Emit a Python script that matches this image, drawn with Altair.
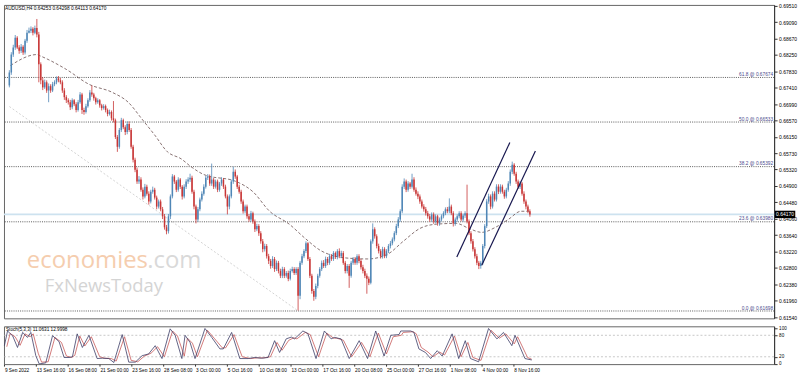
import altair as alt
import pandas as pd

# ---------------- data ----------------
FIRST_OPEN = 0.6747
CLOSE = [
 0.6780,0.6826,0.6844,0.6869,0.6844,0.6836,0.6846,0.6831,0.6861,0.6882,
 0.6887,0.6892,0.6882,0.6894,0.6877,0.6801,0.6760,0.6742,0.6755,0.6734,
 0.6745,0.6734,0.6750,0.6755,0.6765,0.6760,0.6755,0.6734,0.6717,0.6709,
 0.6704,0.6691,0.6709,0.6699,0.6684,0.6704,0.6724,0.6684,0.6679,0.6694,
 0.6709,0.6729,0.6724,0.6714,0.6704,0.6709,0.6696,0.6689,0.6694,0.6684,
 0.6674,0.6679,0.6663,0.6658,0.6615,0.6590,0.6633,0.6658,0.6640,0.6628,
 0.6648,0.6633,0.6590,0.6557,0.6531,0.6501,0.6506,0.6480,0.6463,0.6488,
 0.6470,0.6450,0.6475,0.6480,0.6460,0.6437,0.6450,0.6430,0.6412,0.6384,
 0.6374,0.6412,0.6463,0.6514,0.6501,0.6480,0.6506,0.6488,0.6463,0.6488,
 0.6501,0.6506,0.6511,0.6475,0.6437,0.6404,0.6430,0.6455,0.6470,0.6488,
 0.6511,0.6514,0.6496,0.6506,0.6488,0.6501,0.6480,0.6496,0.6506,0.6488,
 0.6463,0.6437,0.6463,0.6501,0.6526,0.6514,0.6488,0.6475,0.6450,0.6425,
 0.6437,0.6412,0.6404,0.6420,0.6399,0.6379,0.6387,0.6369,0.6348,0.6328,
 0.6336,0.6310,0.6298,0.6285,0.6303,0.6277,0.6293,0.6272,0.6260,0.6277,
 0.6260,0.6267,0.6252,0.6272,0.6277,0.6267,0.6277,0.6209,0.6293,0.6310,
 0.6323,0.6343,0.6303,0.6260,0.6221,0.6206,0.6234,0.6260,0.6277,0.6293,
 0.6285,0.6303,0.6293,0.6310,0.6303,0.6318,0.6308,0.6323,0.6310,0.6318,
 0.6293,0.6272,0.6285,0.6260,0.6293,0.6303,0.6293,0.6310,0.6298,0.6282,
 0.6272,0.6260,0.6252,0.6242,0.6348,0.6379,0.6361,0.6336,0.6323,0.6310,
 0.6328,0.6310,0.6323,0.6336,0.6343,0.6353,0.6369,0.6387,0.6404,0.6425,
 0.6488,0.6501,0.6480,0.6496,0.6488,0.6506,0.6480,0.6470,0.6463,0.6450,
 0.6437,0.6430,0.6420,0.6412,0.6404,0.6417,0.6399,0.6412,0.6394,0.6404,
 0.6412,0.6420,0.6430,0.6425,0.6437,0.6420,0.6394,0.6404,0.6412,0.6420,
 0.6404,0.6414,0.6420,0.6399,0.6369,0.6348,0.6328,0.6310,0.6293,0.6285,
 0.6293,0.6336,0.6387,0.6450,0.6463,0.6437,0.6470,0.6455,0.6488,0.6475,
 0.6488,0.6475,0.6463,0.6480,0.6496,0.6526,0.6544,0.6521,0.6501,0.6488,
 0.6496,0.6470,0.6450,0.6437,0.6425,0.6417]
HIGH = [
 0.6786,0.6832,0.6851,0.6876,0.6873,0.6850,0.6853,0.6850,0.6866,0.6889,
 0.6895,0.6898,0.6896,0.6900,0.6917,0.6884,0.6806,0.6768,0.6762,0.6760,
 0.6752,0.6750,0.6756,0.6760,0.6770,0.6771,0.6766,0.6760,0.6740,0.6722,
 0.6714,0.6710,0.6714,0.6712,0.6704,0.6710,0.6730,0.6728,0.6690,0.6700,
 0.6714,0.6735,0.6747,0.6728,0.6718,0.6714,0.6712,0.6700,0.6699,0.6698,
 0.6688,0.6685,0.6683,0.6707,0.6662,0.6620,0.6638,0.6664,0.6662,0.6645,
 0.6655,0.6655,0.6638,0.6595,0.6562,0.6537,0.6515,0.6512,0.6486,0.6495,
 0.6493,0.6476,0.6480,0.6488,0.6485,0.6465,0.6455,0.6455,0.6436,0.6418,
 0.6390,0.6418,0.6468,0.6520,0.6518,0.6505,0.6512,0.6510,0.6492,0.6494,
 0.6507,0.6512,0.6521,0.6516,0.6480,0.6442,0.6436,0.6460,0.6476,0.6494,
 0.6516,0.6520,0.6519,0.6547,0.6510,0.6506,0.6506,0.6500,0.6512,0.6510,
 0.6493,0.6468,0.6468,0.6506,0.6539,0.6532,0.6518,0.6493,0.6480,0.6455,
 0.6442,0.6442,0.6418,0.6426,0.6424,0.6404,0.6393,0.6392,0.6374,0.6354,
 0.6342,0.6341,0.6316,0.6303,0.6310,0.6308,0.6299,0.6298,0.6278,0.6283,
 0.6282,0.6272,0.6273,0.6278,0.6283,0.6282,0.6282,0.6282,0.6298,0.6316,
 0.6328,0.6348,0.6346,0.6308,0.6265,0.6226,0.6240,0.6265,0.6282,0.6299,
 0.6300,0.6309,0.6308,0.6316,0.6315,0.6323,0.6322,0.6328,0.6330,0.6324,
 0.6323,0.6298,0.6290,0.6290,0.6298,0.6308,0.6308,0.6315,0.6315,0.6303,
 0.6288,0.6278,0.6266,0.6258,0.6353,0.6394,0.6384,0.6366,0.6342,0.6328,
 0.6334,0.6333,0.6328,0.6341,0.6349,0.6358,0.6374,0.6393,0.6410,0.6430,
 0.6494,0.6509,0.6506,0.6502,0.6500,0.6521,0.6512,0.6486,0.6476,0.6468,
 0.6455,0.6443,0.6436,0.6426,0.6418,0.6422,0.6422,0.6417,0.6416,0.6409,
 0.6417,0.6425,0.6435,0.6436,0.6458,0.6442,0.6425,0.6409,0.6417,0.6425,
 0.6425,0.6419,0.6425,0.6493,0.6404,0.6374,0.6354,0.6333,0.6316,0.6298,
 0.6298,0.6341,0.6392,0.6456,0.6470,0.6468,0.6476,0.6476,0.6494,0.6494,
 0.6494,0.6493,0.6480,0.6485,0.6502,0.6532,0.6552,0.6548,0.6526,0.6506,
 0.6502,0.6500,0.6476,0.6455,0.6442,0.6430]
LOW = [
 0.6742,0.6774,0.6820,0.6838,0.6840,0.6828,0.6830,0.6825,0.6826,0.6856,
 0.6880,0.6881,0.6875,0.6878,0.6870,0.6755,0.6750,0.6735,0.6738,0.6728,
 0.6704,0.6728,0.6730,0.6745,0.6750,0.6755,0.6750,0.6728,0.6710,0.6702,
 0.6698,0.6684,0.6686,0.6694,0.6678,0.6680,0.6700,0.6674,0.6672,0.6675,
 0.6690,0.6705,0.6718,0.6708,0.6698,0.6700,0.6690,0.6683,0.6685,0.6678,
 0.6668,0.6670,0.6657,0.6652,0.6610,0.6577,0.6585,0.6628,0.6635,0.6620,
 0.6622,0.6628,0.6585,0.6550,0.6525,0.6495,0.6495,0.6475,0.6455,0.6458,
 0.6465,0.6442,0.6445,0.6470,0.6455,0.6430,0.6432,0.6425,0.6405,0.6378,
 0.6366,0.6368,0.6405,0.6458,0.6495,0.6474,0.6475,0.6482,0.6455,0.6458,
 0.6482,0.6495,0.6500,0.6470,0.6430,0.6394,0.6398,0.6425,0.6450,0.6465,
 0.6483,0.6505,0.6490,0.6490,0.6482,0.6483,0.6474,0.6475,0.6490,0.6482,
 0.6458,0.6417,0.6430,0.6458,0.6495,0.6508,0.6482,0.6470,0.6444,0.6419,
 0.6420,0.6406,0.6398,0.6398,0.6393,0.6372,0.6374,0.6362,0.6342,0.6320,
 0.6322,0.6304,0.6290,0.6278,0.6280,0.6270,0.6272,0.6266,0.6254,0.6254,
 0.6254,0.6255,0.6246,0.6248,0.6268,0.6262,0.6262,0.6171,0.6200,0.6288,
 0.6305,0.6318,0.6298,0.6254,0.6214,0.6196,0.6200,0.6228,0.6255,0.6272,
 0.6280,0.6280,0.6287,0.6288,0.6298,0.6298,0.6303,0.6302,0.6305,0.6305,
 0.6288,0.6266,0.6266,0.6229,0.6255,0.6288,0.6288,0.6288,0.6292,0.6276,
 0.6266,0.6254,0.6214,0.6236,0.6238,0.6342,0.6355,0.6330,0.6317,0.6304,
 0.6304,0.6305,0.6305,0.6318,0.6330,0.6338,0.6348,0.6364,0.6382,0.6398,
 0.6420,0.6482,0.6474,0.6475,0.6482,0.6483,0.6475,0.6465,0.6456,0.6444,
 0.6432,0.6424,0.6414,0.6406,0.6398,0.6398,0.6393,0.6394,0.6388,0.6388,
 0.6399,0.6407,0.6415,0.6420,0.6420,0.6415,0.6386,0.6388,0.6398,0.6407,
 0.6399,0.6398,0.6408,0.6394,0.6364,0.6342,0.6322,0.6304,0.6287,0.6277,
 0.6278,0.6288,0.6330,0.6382,0.6444,0.6430,0.6432,0.6450,0.6450,0.6469,
 0.6470,0.6470,0.6457,0.6458,0.6475,0.6490,0.6520,0.6516,0.6495,0.6482,
 0.6482,0.6465,0.6444,0.6430,0.6420,0.6411]

MA_BAR = [0.6,14,15.5,29,40.5,52.5,60.5,67.5,74,80.5,87.5,92.5,99,115.5,124,132.5,
          142.5,150.5,159,172.5,182.5,192.5,200.5,209,217.5,227.5,234,240.5,247.5,254,260.5,265]
MA_VAL = [0.6798,0.6826,0.6823,0.6788,0.6750,0.6729,0.6704,0.6661,0.6620,0.6577,0.6559,0.6539,
          0.6519,0.6501,0.6475,0.6425,0.6392,0.6356,0.6323,0.6305,0.6303,0.6315,0.6348,0.6381,
          0.6392,0.6394,0.6381,0.6371,0.6384,0.6404,0.6425,0.6425]

FIB_NAMES = ["61.8 @ 0.67674", "50.0 @ 0.66533", "38.2 @ 0.65392", "23.6 @ 0.63980", "0.0 @ 0.61698"]
FIB_PRICES = [0.67674, 0.66533, 0.65392, 0.63980, 0.61698]
CURRENT = 0.64170

DIAG_BAR = [0, 147]
DIAG_PRICE = [0.6693, 0.6170]

CH_ID = ["a", "a", "b", "b"]
CH_BAR = [227.8, 254.8, 240.5, 267.8]
CH_PRICE = [0.6308, 0.6601, 0.6287, 0.6579]

PRICE_TICKS = [0.69510,0.69090,0.68670,0.68250,0.67830,0.67410,0.66990,0.66570,0.66150,0.65730,
               0.65320,0.64900,0.64480,0.64060,0.63640,0.63220,0.62800,0.62380,0.61960,0.61540]

DATE_BARS = list(range(0, 257, 16))
DATE_LABELS = ["9 Sep 2022","13 Sep 16:00","16 Sep 08:00","21 Sep 00:00","23 Sep 16:00",
               "28 Sep 08:00","3 Oct 00:00","5 Oct 16:00","10 Oct 08:00","13 Oct 00:00",
               "17 Oct 16:00","20 Oct 08:00","25 Oct 00:00","27 Oct 16:00","1 Nov 08:00",
               "4 Nov 00:00","8 Nov 16:00"]

K_BAR = [0,1.6,4.2,6.6,9.2,11.6,13.3,15.8,17.5,20.8,24.2,27.5,30,32.5,34.2,36.6,39.2,42.5,46.6,49.2,
         52.5,55,59.2,62.5,65.8,69.2,72.5,75.8,79.2,83.3,85.8,89.2,90.8,93.3,95.8,100.8,104.2,108.3,
         110,114.2,118.3,122.5,125.8,129.2,132.5,135.8,138.3,141.6,144.2,145.8,150,152.5,156.6,160.8,
         164.2,165.8,169.2,173.3,178.3,182.5,186.6,190.8,194.2,198.3,199.2,204.2,205.8,208.3,211.6,
         214.2,217.5,220,225,228.3,231.6,234.2,238.3,243.3,247.5,250.8,255,256.6,261.6,265]
K_VAL = [51,92,78,46,88,74,88,23,0,3,79,62,18,18,20,84,46,80,15,16,15,4,82,5,5,23,28,51,15,98,80,15,
         80,60,15,99,74,42,42,88,15,15,18,16,18,65,32,70,75,70,92,85,15,92,70,74,70,15,65,15,92,22,
         80,82,92,92,88,42,32,15,37,22,84,15,65,15,6,99,70,88,51,80,15,11.06]
D_BAR = [1.2,2.9,5.4,7.9,10.4,12.9,14.5,17,18.7,22,25.4,28.7,31.2,33.7,35.4,37.9,40.4,43.7,47.9,50.4,
         53.7,56.2,60.4,63.7,67,70.4,73.7,77,80.4,84.5,87,90.4,92,94.5,97,102,105.4,109.5,111.2,115.4,
         119.5,123.7,127,130.4,133.7,137,139.5,142.9,145.4,147,151.2,153.7,157.9,162,165.4,167,170.4,
         174.5,179.5,183.7,187.9,192,195.4,199.5,200.4,205.4,207,209.5,212.9,215.4,218.7,221.2,226.2,
         229.5,232.9,235.4,239.5,244.5,248.7,252,256.2,257.9,262.9,265]
D_VAL = [48,85,76,52,84,76,84,30,5,6,74,60,22,18,24,78,50,76,20,16,15,8,76,10,6,22,30,48,20,92,78,22,
         72,58,20,94,72,45,45,82,20,15,17,17,20,60,38,66,73,70,88,82,20,86,72,72,66,20,60,20,86,28,
         76,80,88,90,84,46,33,20,33,25,78,20,60,18,10,94,72,84,56,76,18,13.0]

HEADER = "AUDUSD,H4  0.64253 0.64298 0.64113 0.64170"
STOCH_TITLE = "Stoch(5,3,3) 11.0631 12.9998"

# ---------------- styling ----------------
BULL = "#4f86b6"
BEAR = "#c83636"
FONT = "Liberation Sans"
W = 774
H_MAIN = 315
H_STOCH = 38

n = min(len(CLOSE), len(HIGH), len(LOW))
opens = [FIRST_OPEN] + CLOSE[:n - 1]
candles = pd.DataFrame({"bar": list(range(n)), "open": opens, "close": CLOSE[:n],
                        "high": HIGH[:n], "low": LOW[:n]})
candles["dir"] = ["up" if c >= o else "down" for o, c in zip(candles["open"], candles["close"])]

xs = alt.Scale(domain=[-0.2, 386.8], nice=False, zero=False)
ys = alt.Scale(domain=[0.6151, 0.6953], nice=False, zero=False)
col = alt.Color("dir:N", scale=alt.Scale(domain=["up", "down"], range=[BULL, BEAR]), legend=None)

Y_AXIS = alt.Axis(orient="right", values=PRICE_TICKS, format=".5f", labelFontSize=5,
                  labelFont=FONT, labelColor="#000", tickSize=3, tickColor="#333",
                  domainColor="#333", grid=False, labelPadding=1.5, title=None)


def py(field):
    return alt.Y(field, scale=ys, axis=Y_AXIS, title=None)


def px(field):
    return alt.X(field, scale=xs, axis=None)


ma = pd.DataFrame({"bar": MA_BAR, "p": MA_VAL})
fib = pd.DataFrame({"name": FIB_NAMES, "p": FIB_PRICES})
diag = pd.DataFrame({"bar": DIAG_BAR, "p": DIAG_PRICE})
chan = pd.DataFrame({"id": CH_ID, "bar": CH_BAR, "p": CH_PRICE})
cur = pd.DataFrame({"p": [CURRENT], "t": [f"{CURRENT:.5f}"]})

diag_l = alt.Chart(diag).mark_line(color="#c8c8c8", strokeDash=[2, 2], strokeWidth=0.8).encode(
    x=px("bar:Q"), y=py("p:Q"))
cur_l = alt.Chart(cur).mark_rule(color="#cde2ef", strokeWidth=1.6).encode(y=py("p:Q"))
fib_l = alt.Chart(fib).mark_rule(color="#333333", strokeDash=[1, 1.2], strokeWidth=0.8).encode(
    y=py("p:Q"))
fib_t = alt.Chart(fib).mark_text(align="right", baseline="bottom", dy=-0.5, fontSize=4.8,
                                 color="#4a4a8c", font=FONT).encode(
    x=alt.value(773), y=py("p:Q"), text="name:N")

wm1 = alt.Chart(pd.DataFrame({"t": ["economies"]})).mark_text(
    align="left", baseline="alphabetic", fontSize=24, font="Open Sans", color="#f5cdae").encode(
    x=alt.value(23), y=alt.value(264), text="t:N")
wm2 = alt.Chart(pd.DataFrame({"t": [".com"]})).mark_text(
    align="left", baseline="alphabetic", fontSize=24, font="Open Sans", color="#d9d9d9").encode(
    x=alt.value(144), y=alt.value(264), text="t:N")
wm3 = alt.Chart(pd.DataFrame({"t": ["FxNewsToday"]})).mark_text(
    align="left", baseline="alphabetic", fontSize=18.5, font="Open Sans", color="#d4d4d4").encode(
    x=alt.value(41), y=alt.value(289), text="t:N")

ma_l = alt.Chart(ma).mark_line(color="#6a5050", strokeDash=[3, 2], strokeWidth=0.8,
                               interpolate="monotone").encode(x=px("bar:Q"), y=py("p:Q"))

wick = alt.Chart(candles).mark_rule(strokeWidth=0.8).encode(
    x=px("bar:Q"), y=py("low:Q"), y2="high:Q", color=col)
body = alt.Chart(candles).mark_bar(size=1.5).encode(
    x=px("bar:Q"), y=py("open:Q"), y2="close:Q", color=col)

chan_l = alt.Chart(chan).mark_line(color="#16164e", strokeWidth=1.2).encode(
    x=px("bar:Q"), y=py("p:Q"), detail="id:N")

head = alt.Chart(pd.DataFrame({"t": [HEADER]})).mark_text(
    align="left", baseline="middle", fontSize=4.8, font=FONT, color="#000").encode(
    x=alt.value(1), y=alt.value(4), text="t:N")

box = alt.Chart(cur).mark_point(shape="M-1,-0.36L1,-0.36L1,0.36L-1,0.36Z", filled=True,
                                size=420, color="#000", opacity=1, strokeWidth=0).encode(
    x=alt.value(785), y=py("p:Q"))
box_t = alt.Chart(cur).mark_text(align="center", baseline="middle", fontSize=5, font=FONT,
                                 color="#fff").encode(
    x=alt.value(785), y=py("p:Q"), text="t:N")

main = alt.layer(diag_l, cur_l, fib_l, fib_t, wm1, wm2, wm3, ma_l, wick, body, chan_l,
                 head, box, box_t).properties(width=W, height=H_MAIN)

# ---------------- stochastic panel ----------------
ss = alt.Scale(domain=[-0.5, 105.1], nice=False, zero=False)
kn = min(len(K_BAR), len(K_VAL))
dn = min(len(D_BAR), len(D_VAL))
kdf = pd.DataFrame({"bar": K_BAR[:kn], "v": K_VAL[:kn]})
ddf = pd.DataFrame({"bar": D_BAR[:dn], "v": D_VAL[:dn]})
lev = pd.DataFrame({"v": [20, 80]})

label_expr = "[" + ",".join(f"'{s}'" for s in DATE_LABELS) + "][round(datum.value/16)]"

X_AXIS = alt.Axis(values=DATE_BARS, labelExpr=label_expr, labelFontSize=4.8,
                  labelFont=FONT, labelColor="#000", labelAlign="left", labelFlush=False,
                  labelOverlap=False, tickSize=2, tickColor="#333", domain=False,
                  grid=False, labelPadding=1.5, title=None)
S_AXIS = alt.Axis(orient="right", values=[0, 20, 80, 100], labelFontSize=4.6,
                  labelFont=FONT, labelColor="#000", tickSize=3, tickColor="#333",
                  domainColor="#333", grid=False, labelPadding=1.5, title=None)


def sx(field):
    return alt.X(field, scale=xs, axis=X_AXIS, title=None)


def sy(field):
    return alt.Y(field, scale=ss, axis=S_AXIS, title=None)


lev_l = alt.Chart(lev).mark_rule(color="#b0b0b0", strokeDash=[2, 2], strokeWidth=0.7).encode(
    y=sy("v:Q"))
d_l = alt.Chart(ddf).mark_line(color="#c85a5a", strokeWidth=0.8).encode(x=sx("bar:Q"), y=sy("v:Q"))
k_l = alt.Chart(kdf).mark_line(color="#3c3c66", strokeWidth=0.8).encode(x=sx("bar:Q"), y=sy("v:Q"))
st_t = alt.Chart(pd.DataFrame({"t": [STOCH_TITLE]})).mark_text(
    align="left", baseline="middle", fontSize=4.7, font=FONT, color="#000").encode(
    x=alt.value(2), y=alt.value(4), text="t:N")

stoch = alt.layer(lev_l, d_l, k_l, st_t).properties(width=W, height=H_STOCH)

chart = alt.vconcat(main, stoch, spacing=3).properties(
    padding={"left": 2, "top": 2, "right": 0, "bottom": 0},
    background="white",
).configure_view(stroke="#666666", strokeWidth=1)

chart.save("out.html", embed_options={"renderer": "svg", "actions": False})
